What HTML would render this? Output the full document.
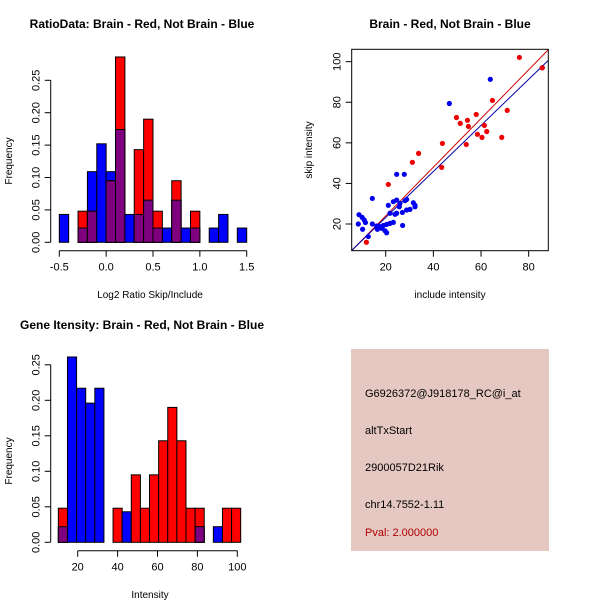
<!DOCTYPE html>
<html><head><meta charset="utf-8"><style>
html,body{margin:0;padding:0;background:#fff;}
svg{display:block;font-family:"Liberation Sans",Arial,sans-serif;}
</style></head><body>
<svg id="c" width="600" height="600" viewBox="0 0 600 600">
<rect width="600" height="600" fill="#fff"/>
<text x="142" y="28" font-size="12" font-weight="bold" text-anchor="middle">RatioData: Brain - Red, Not Brain - Blue</text>
<text x="450" y="28" font-size="12" font-weight="bold" text-anchor="middle">Brain - Red, Not Brain - Blue</text>
<text x="142" y="329" font-size="12" font-weight="bold" text-anchor="middle">Gene Itensity: Brain - Red, Not Brain - Blue</text>
<text x="150" y="298" font-size="10" text-anchor="middle">Log2 Ratio Skip/Include</text>
<text transform="translate(12,161) rotate(-90)" font-size="10" text-anchor="middle">Frequency</text>
<text x="450" y="298" font-size="10" text-anchor="middle">include intensity</text>
<text transform="translate(312,150) rotate(-90)" font-size="10" text-anchor="middle">skip intensity</text>
<text x="150" y="598" font-size="10" text-anchor="middle">Intensity</text>
<text transform="translate(12,461) rotate(-90)" font-size="10" text-anchor="middle">Frequency</text>
<g>
<rect x="351" y="349" width="198" height="202" fill="#E6C8C2"/>
<text x="365" y="397" font-size="11">G6926372@J918178_RC@i_at</text>
<text x="365" y="434" font-size="11">altTxStart</text>
<text x="365" y="471" font-size="11">2900057D21Rik</text>
<text x="365" y="508" font-size="11">chr14.7552-1.11</text>
<text x="365" y="536" font-size="11" fill="#B00000">Pval: 2.000000</text>
</g>
</svg>
<script>
// ---- Ratio histogram data ----
const ratioBinStart = -0.5;
const ratioBinWidth = 0.1;
const ratioBlue = [0.043,0,0.022,0.109,0.152,0.109,0.174,0.043,0.043,0.065,0.022,0.022,0.065,0.022,0.022,0,0.022,0.043,0,0.022];
const ratioRed  = [0,0,0.048,0.048,0,0.095,0.286,0,0.143,0.190,0.048,0,0.095,0,0.048,0,0,0,0,0];
const ratioXTicks = [-0.5,0,0.5,1,1.5];
const ratioXLabels = ["-0.5","0.0","0.5","1.0","1.5"];
const ratioYTicks = [0,0.05,0.10,0.15,0.20,0.25];
const ratioYLabels = ["0.00","0.05","0.10","0.15","0.20","0.25"];
// ---- Intensity histogram data ----
const intBinStart = 10.3;
const intBinWidth = 4.57;
const intBlue = [0.022,0.261,0.217,0.196,0.217,0,0,0.043,0,0,0,0,0,0,0,0.022,0,0.022,0,0];
const intRed  = [0.048,0,0,0,0,0,0.048,0,0.095,0.048,0.095,0.143,0.190,0.143,0.048,0.048,0,0,0.048,0.048];
const intXTicks = [20,40,60,80,100];
const intYTicks = [0,0.05,0.10,0.15,0.20,0.25];
const intYLabels = ["0.00","0.05","0.10","0.15","0.20","0.25"];
// ---- Scatter data ----
const redX = [76.1,85.7,64.8,71.0,49.7,51.3,54.3,58.0,54.7,61.4,58.5,60.4,62.4,68.7,43.8,53.8,33.8,31.2,43.5,21.1,11.9];
const redY = [102.1,97.0,80.9,76.0,72.5,69.6,71.1,74.0,68.1,68.6,64.2,62.7,65.6,62.7,59.7,59.2,54.8,50.4,47.9,39.5,11.0];
const blueX = [63.9,46.7,24.6,27.8,14.4,21.1,23.2,24.6,26,28.1,28.8,31.6,32.3,21.8,23.9,27,28.8,30.2,32.3,25.7,24.6,8.8,10.1,11,11.5,8.5,14.4,10.3,12.7,16.5,17.6,19,20.4,21.8,23.2,16.2,18.3,19.7,20.4,27.1,85.7];
const blueY = [91.3,79.4,44.5,44.5,32.6,29.2,31,31.8,30.2,31.5,32.1,30.5,28.5,25.3,24.8,25.7,26.9,27.2,29.2,28.5,25.3,24.6,23.3,22,20.7,20,20,17.4,13.8,17.4,18.7,19.3,19.8,20.3,20.8,19,17.9,16.7,15.7,19.3,97.0];
const redFit = [0, 1.2];    // intercept, slope
const blueFit = [0.5, 1.135];
const scXTicks = [20,40,60,80];
const scYTicks = [20,40,60,80,100];

const svg = document.getElementById('c');
const NS = 'http://www.w3.org/2000/svg';
function mk(tag, attrs){const e=document.createElementNS(NS,tag);for(const k in attrs)e.setAttribute(k,attrs[k]);svg.appendChild(e);return e;}

function hist(blue, red, start, width, xs, ys, xTicks, xLabels, yTicks, yLabels, axY, axX, prefix){
  for(let i=0;i<blue.length;i++){
    const x0=xs(start+i*width), x1=xs(start+(i+1)*width);
    const b=blue[i], r=red[i];
    if(b>0){const e=mk('rect',{x:x0,y:ys(b),width:x1-x0,height:ys(0)-ys(b),fill:'#0000FF',stroke:'#000','stroke-width':1});
      
      }
    if(r>0){const e=mk('rect',{x:x0,y:ys(r),width:x1-x0,height:ys(0)-ys(r),fill:'#FF0000',stroke:'#000','stroke-width':1});
      
      }
    const m=Math.min(b,r);
    if(m>0){const e=mk('rect',{x:x0,y:ys(m),width:x1-x0,height:ys(0)-ys(m),fill:'#7F007F',stroke:'#000','stroke-width':1});
      
      }
  }
  const xa=mk('line',{x1:xs(xTicks[0]),x2:xs(xTicks[xTicks.length-1]),y1:axX,y2:axX,stroke:'#000'});
  
  
  xTicks.forEach((t,i)=>{mk('line',{x1:xs(t),x2:xs(t),y1:axX,y2:axX+6,stroke:'#000'});
    const tx=mk('text',{x:xs(t),y:axX+20,'font-size':11,'text-anchor':'middle'});tx.textContent=xLabels[i];
    
    });
  const ya=mk('line',{x1:axY,x2:axY,y1:ys(yTicks[0]),y2:ys(yTicks[yTicks.length-1]),stroke:'#000'});
  
  
  yTicks.forEach((t,i)=>{mk('line',{x1:axY-6,x2:axY,y1:ys(t),y2:ys(t),stroke:'#000'});
    const tx=mk('text',{'font-size':11,'text-anchor':'middle',transform:`translate(${axY-11},${ys(t)}) rotate(-90)`});tx.textContent=yLabels[i];
    
    });
}
hist(ratioBlue, ratioRed, ratioBinStart, ratioBinWidth,
  v=>59.3+(v+0.5)*93.7, v=>242.3-v*648, ratioXTicks, ratioXLabels, ratioYTicks, ratioYLabels, 50.7, 250.7, 'ratio');
hist(intBlue, intRed, intBinStart, intBinWidth,
  v=>77.7+(v-20)*1.995, v=>542.3-v*710, intXTicks, intXTicks.map(String), intYTicks, intYLabels, 50.7, 550.7, 'intensity');

// scatter
const sx=v=>385.7+(v-20)*2.383, sy=v=>224-(v-20)*2.029;
const L=351.7,R=548.3,T=49.3,B=250.7;
mk('defs',{}).innerHTML='<clipPath id="sc"><rect x="351.7" y="49.3" width="196.6" height="201.4"/></clipPath>';
const vx0=20+(L-385.7)/2.383, vx1=20+(R-385.7)/2.383;
[[redFit,'#CC0000','scatter-red-fit-line'],[blueFit,'#0000AA','scatter-blue-fit-line']].forEach(([f,c,n])=>{
  const e=mk('line',{x1:sx(vx0),y1:sy(f[0]+f[1]*vx0),x2:sx(vx1),y2:sy(f[0]+f[1]*vx1),stroke:c,'stroke-width':1,'clip-path':'url(#sc)'});
  
  
});
blueX.forEach((x,i)=>{const e=mk('circle',{cx:sx(x),cy:sy(blueY[i]),r:2.6,fill:'#0000EE'});
  
  });
redX.forEach((x,i)=>{const e=mk('circle',{cx:sx(x),cy:sy(redY[i]),r:2.6,fill:'#EE0000'});
  
  });
const box=mk('rect',{x:L,y:T,width:R-L,height:B-T,fill:'none',stroke:'#000'});


scXTicks.forEach(t=>{mk('line',{x1:sx(t),x2:sx(t),y1:B,y2:B+6,stroke:'#000'});
  const tx=mk('text',{x:sx(t),y:B+20,'font-size':11,'text-anchor':'middle'});tx.textContent=t;
  
  });
scYTicks.forEach(t=>{mk('line',{x1:L-6,x2:L,y1:sy(t),y2:sy(t),stroke:'#000'});
  const tx=mk('text',{'font-size':11,'text-anchor':'middle',transform:`translate(${L-11},${sy(t)}) rotate(-90)`});tx.textContent=t;
  
  });
</script>
</body></html>
